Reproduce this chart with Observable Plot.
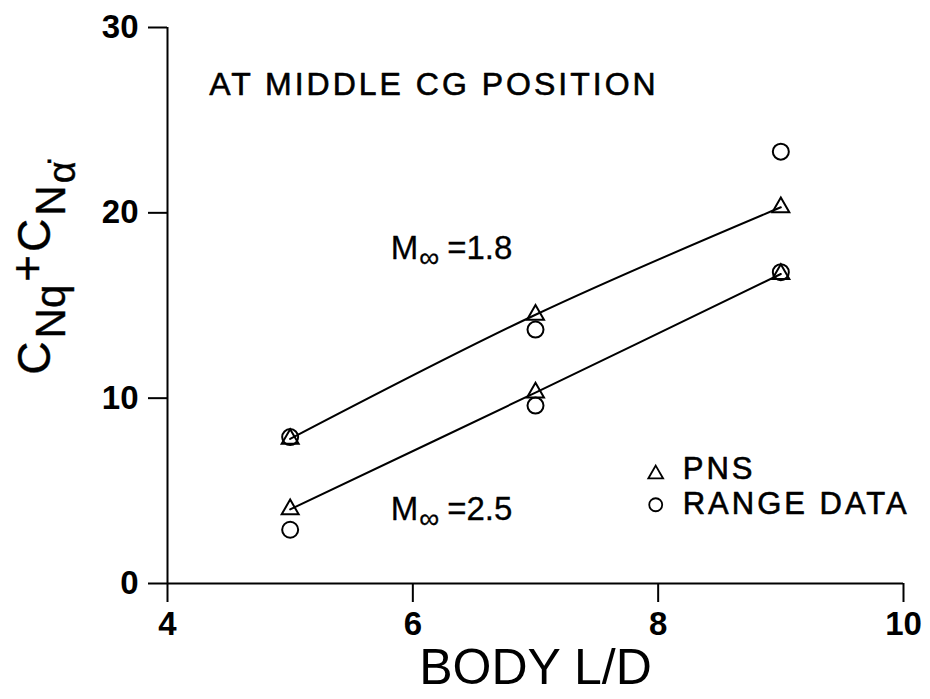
<!DOCTYPE html>
<html>
<head>
<meta charset="utf-8">
<script src="https://cdn.jsdelivr.net/npm/d3@7"></script>
<script src="https://cdn.jsdelivr.net/npm/@observablehq/plot@0.6"></script>
<style>
  body { margin: 0; background: #fff; }
  #chart svg { font-family: "Liberation Sans", Arial, Helvetica, sans-serif; }
</style>
</head>
<body>
<div id="chart"></div>
<script>
// ---- data ----
const bodyLD = [5, 7, 9];
const pnsM18 = [7.8, 14.5, 20.3];
const rangeM18 = [7.9, 13.7, 23.3];
const pnsM25 = [4.0, 10.3, 16.7];
const rangeM25 = [2.9, 9.6, 16.8];
const machLabels = ["M∞ =1.8", "M∞ =2.5"];
const xTicks = [4, 6, 8, 10];
const yTicks = [0, 10, 20, 30];
const xLabel = "BODY L/D";
const noteText = "AT MIDDLE CG POSITION";
const legendLabels = ["PNS", "RANGE DATA"];

// ---- tables built from the arrays ----
const pns = bodyLD.flatMap((x, i) => [
  {x, y: pnsM18[i], mach: "1.8"},
  {x, y: pnsM25[i], mach: "2.5"}
]);
const range = bodyLD.flatMap((x, i) => [
  {x, y: rangeM18[i], mach: "1.8"},
  {x, y: rangeM25[i], mach: "2.5"}
]);
const machText = [
  {x: 5.82, y: 18.1, text: machLabels[0]},
  {x: 5.82, y: 4.0, text: machLabels[1]}
];
const legendSym = [
  {x: 7.98, y: 5.9, symbol: "triangle", r: 5.5},
  {x: 7.98, y: 4.25, symbol: "circle", r: 6.5}
];
const legendText = [
  {x: 8.2, y: 6.15, text: legendLabels[0]},
  {x: 8.2, y: 4.3, text: legendLabels[1]}
];

const plot = Plot.plot({
  width: 930,
  height: 699,
  marginLeft: 167,
  marginRight: 27,
  marginTop: 27,
  marginBottom: 116,
  x: {domain: [4, 10]},
  y: {domain: [0, 30]},
  r: {type: "identity"},
  symbol: {type: "identity"},
  marks: [
    Plot.ruleX([4], {y1: 0, y2: 30, strokeWidth: 2}),
    Plot.ruleY([0], {x1: 4, x2: 10, strokeWidth: 2}),
    Plot.axisX(xTicks, {tickSize: 19, tickPadding: 9, tickFormat: d3.format("d"), fontSize: 33, fontWeight: "bold", strokeWidth: 2, label: null}),
    Plot.axisY(yTicks, {tickSize: 19, tickPadding: 10, tickFormat: d3.format("d"), fontSize: 33, fontWeight: "bold", strokeWidth: 2, label: null}),
    Plot.line(pns, {x: "x", y: "y", z: "mach", curve: "catmull-rom", stroke: "#000", strokeWidth: 2}),
    Plot.dot(pns, {x: "x", y: "y", symbol: "triangle", r: 6.3, stroke: "#000", strokeWidth: 2, fill: "none"}),
    Plot.dot(range, {x: "x", y: "y", symbol: "circle", r: 8, stroke: "#000", strokeWidth: 2, fill: "none"}),
    Plot.dot(legendSym, {x: "x", y: "y", symbol: "symbol", r: "r", stroke: "#000", strokeWidth: 1.8, fill: "none"}),
    Plot.text(legendText, {x: "x", y: "y", text: "text", textAnchor: "start", fontSize: 31, fill: "#000", stroke: "#000", strokeWidth: 0.6}),
    Plot.text([{x: 4.34, y: 26.9, text: noteText}], {x: "x", y: "y", text: "text", textAnchor: "start", fontSize: 32, fill: "#000", stroke: "#000", strokeWidth: 0.6}),
    Plot.text(machText, {x: "x", y: "y", text: "text", textAnchor: "start", fontSize: 33, fill: "#000", stroke: "#000", strokeWidth: 0.3}),
    Plot.text([xLabel], {frameAnchor: "bottom", dy: 100, fontSize: 50, fill: "#000"})
  ]
});

document.getElementById("chart").appendChild(plot);
const svg = d3.select(plot);

// letter spacing on the note and legend
svg.selectAll("text").each(function() {
  const t = this.textContent;
  if (t === noteText) this.style.letterSpacing = "3px";
  if (legendLabels.includes(t)) this.style.letterSpacing = "3px";
});

// Mach labels with subscript infinity
svg.selectAll("text").each(function() {
  const t = this.textContent;
  if (!machLabels.includes(t)) return;
  const sel = d3.select(this);
  sel.text(null);
  sel.append("tspan").text("M");
  sel.append("tspan").attr("font-size", 28).attr("dy", 8).attr("dx", 1).text("∞");
  sel.append("tspan").attr("dy", -8).attr("dx", 8).text(t.split(" ")[1]);
});

// y-axis label: C_Nq + C_Nα̇
const yl = svg.append("text")
  .attr("transform", "translate(50,268) rotate(-90)")
  .attr("text-anchor", "middle")
  .attr("font-size", 46)
  .attr("fill", "#000")
  .attr("stroke", "#000")
  .attr("stroke-width", 0.4);
yl.append("tspan").text("C");
yl.append("tspan").attr("font-size", 42).attr("dy", 15).attr("dx", 3).text("Nq");
yl.append("tspan").attr("dy", -22).attr("dx", 3).text("+");
yl.append("tspan").attr("dy", 7).attr("dx", 3).text("C");
yl.append("tspan").attr("font-size", 42).attr("dy", 15).attr("dx", 3).text("N");
yl.append("tspan").attr("font-size", 38).attr("dy", 10).attr("dx", 2).text("α\u0307");
</script>
</body>
</html>
